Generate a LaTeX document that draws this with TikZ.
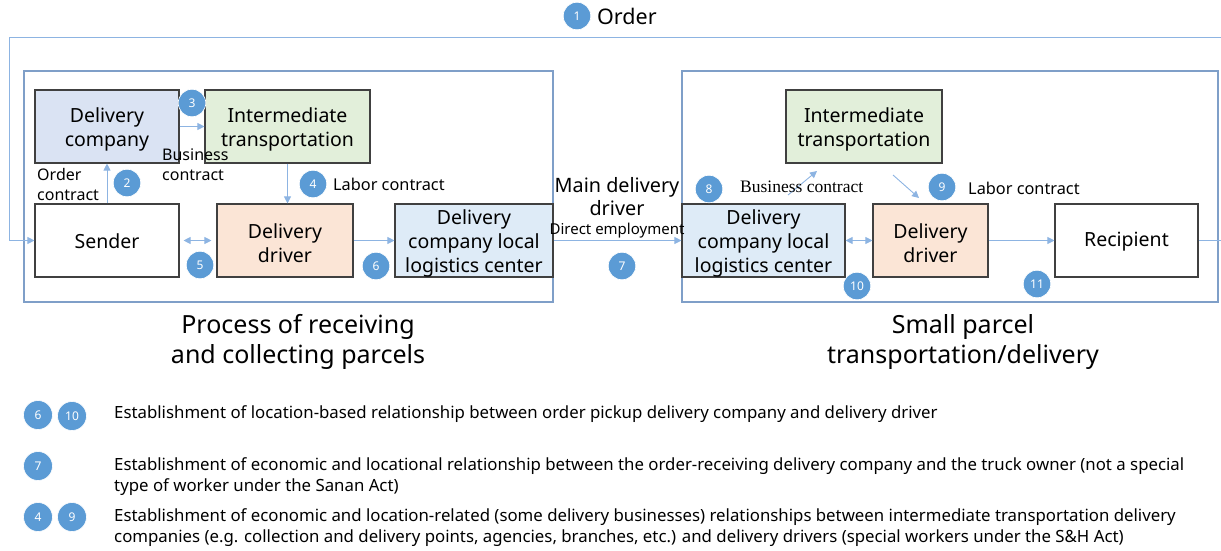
\documentclass[tikz,border=0pt]{standalone}
\usepackage{fontspec}
\setmainfont{Noto Sans}
\newfontfamily\serifb{Liberation Serif}
\usetikzlibrary{arrows.meta}
\definecolor{grp}{HTML}{7F9FC8}
\definecolor{arr}{HTML}{8DB4E2}
\definecolor{circ}{HTML}{5B9BD5}
\definecolor{fcomp}{HTML}{DAE3F3}
\definecolor{finter}{HTML}{E2EFDA}
\definecolor{fdriver}{HTML}{FBE5D6}
\definecolor{fcenter}{HTML}{DEEBF7}
\begin{document}
\begin{tikzpicture}[x=1pt,y=-1pt,
  box/.style={draw=black!75, line width=1.1pt, inner sep=0pt, minimum height=73pt},
  boxtxt/.style={inner sep=0pt, align=center, font=\fontsize{19.5}{24}\selectfont, yshift=-3pt},
  bt/.style={label={[boxtxt]center:{#1}}},
  grpbox/.style={draw=grp, line width=1.1pt},
  num/.style={circle, fill=circ, draw=white, line width=0.6pt, minimum size=27.5pt, inner sep=0pt, text=white, font=\fontsize{12}{12}\selectfont},
  conn/.style={draw=arr, line width=0.9pt, -{Triangle[length=7pt,width=7pt]}},
  dconn/.style={draw=arr, line width=0.9pt, {Triangle[length=7pt,width=7pt]}-{Triangle[length=7pt,width=7pt]}},
  plain/.style={draw=arr, line width=0.9pt},
  lbl/.style={inner sep=0pt, align=left, font=\fontsize{16.3}{20}\selectfont},
  legend/.style={inner sep=0pt, align=left, anchor=west, font=\fontsize{16.8}{21}\selectfont},
  title/.style={inner sep=0pt, align=center, font=\fontsize{25}{30}\selectfont}]
\useasboundingbox (0,0) rectangle (1221,551);

% group boxes
\draw[grpbox] (24,71) rectangle (553,302);
\draw[grpbox] (682,71) rectangle (1218,302);

% left nodes
\node[box, fill=fcomp, minimum width=144pt, bt={Delivery\\company}] (dc) at (107,126.5) {};
\node[box, fill=finter, minimum width=165pt, bt={Intermediate\\transportation}] (itl) at (287.5,126.5) {};
\node[box, fill=white, minimum width=144pt, label={[boxtxt, yshift=2pt]center:Sender}] (snd) at (107,240.5) {};
\node[box, fill=fdriver, minimum width=136pt, bt={Delivery\\driver}] (drl) at (285,240.5) {};
\node[box, fill=fcenter, minimum width=158pt, bt={Delivery\\company local\\logistics center}] (lcl) at (474,240.5) {};

% right nodes
\node[box, fill=finter, minimum width=156pt, bt={Intermediate\\transportation}] (itr) at (864,126.5) {};
\node[box, fill=fcenter, minimum width=163pt, bt={Delivery\\company local\\logistics center}] (lcr) at (763.5,240.5) {};
\node[box, fill=fdriver, minimum width=115pt, bt={Delivery\\driver}] (drr) at (930.5,240.5) {};
\node[box, fill=white, minimum width=143pt, label={[boxtxt, yshift=2pt]center:Recipient}] (rcp) at (1126.5,240.5) {};

% order loop
\coordinate (oL) at (9,37);
\coordinate (oR) at (1221,37);
\coordinate (out) at (1221,240.5);
\draw[conn] (oR) -- (oL) |- (snd.west);

% connectors
\draw[conn] (snd.north) -- (dc.south);
\draw[conn] (dc.east) -- (itl.west);
\draw[conn] (itl.south) -- (itl.south |- drl.north);
\draw[dconn] ([xshift=4pt]snd.east) -- ([xshift=-5pt]drl.west);
\draw[conn] (drl.east) -- (lcl.west);
\draw[conn] (lcl.east) -- (lcr.west);
\draw[dconn] (lcr.east) -- (drr.west);
\draw[conn] (drr.east) -- (rcp.west);
\draw[plain] (rcp.east) -- (out);
\coordinate (bA) at (788,195);
\coordinate (bB) at (817,171);
\draw[conn] (bA) -- (bB);
\coordinate (lA) at (893,175);
\coordinate (lB) at (919,198);
\draw[conn] (lA) -- (lB);

% labels
\node[num] (n1) at (577,16) {1};
\node[inner sep=0pt, anchor=west, font=\fontsize{21.5}{24}\selectfont] (tOrder) at (597,16) {Order};
\node[lbl, anchor=west, font=\fontsize{16}{20}\selectfont] (tOC) at (37,184) {Order\\contract};
\node[num] (n2) at (127,183) {2};
\node[num] (n3) at (192,103) {3};
\node[lbl, anchor=west, font=\fontsize{16}{20}\selectfont] (tBC) at (162,165) {Business\\contract};
\node[num] (n4) at (313,184) {4};
\node[lbl, anchor=west] (tLC) at (333,184) {Labor contract};
\node[num] (n5) at (200,265) {5};
\node[num] (n6) at (376,266) {6};
\node[inner sep=0pt, align=center, font=\fontsize{19.8}{23}\selectfont] (tMD) at (617,196.5) {Main delivery\\driver};
\node[inner sep=0pt, font=\fontsize{15}{15}\selectfont] (tDE) at (617,231) {Direct employment};
\node[num] (n7) at (622,266) {7};
\node[num] (n8) at (709,189) {8};
\node[inner sep=0pt, anchor=west, font=\serifb\fontsize{17.5}{18}\selectfont] (tBC2) at (740,187) {Business contract};
\node[num] (n9) at (942,187) {9};
\node[lbl, anchor=west] (tLC2) at (968,188) {Labor contract};
\node[num] (n10) at (857,286) {10};
\node[num] (n11) at (1037,284) {11};

% titles
\node[title] (t1) at (298,342) {Process of receiving\\and collecting parcels};
\node[title] (t2) at (963,342) {Small parcel\\transportation/delivery};

% legend
\node[num, minimum size=29pt] (l6) at (38,415) {6};
\node[num, minimum size=29pt] (l10) at (72,416) {10};
\node[legend] (L1) at (114,414) {Establishment of location-based relationship between order pickup delivery company and delivery driver};
\node[num, minimum size=29pt] (l7) at (38,466) {7};
\node[legend] (L2) at (114,476.5) {Establishment of economic and locational relationship between the order-receiving delivery company and the truck owner (not a special\\type of worker under the Sanan Act)};
\node[num, minimum size=29pt] (l4) at (38,517) {4};
\node[num, minimum size=29pt] (l9) at (72,517) {9};
\node[legend] (L3) at (114,527.5) {Establishment of economic and location-related (some delivery businesses) relationships between intermediate transportation delivery\\companies (e.g. collection and delivery points, agencies, branches, etc.) and delivery drivers (special workers under the S\&H Act)};
\end{tikzpicture}
\end{document}
